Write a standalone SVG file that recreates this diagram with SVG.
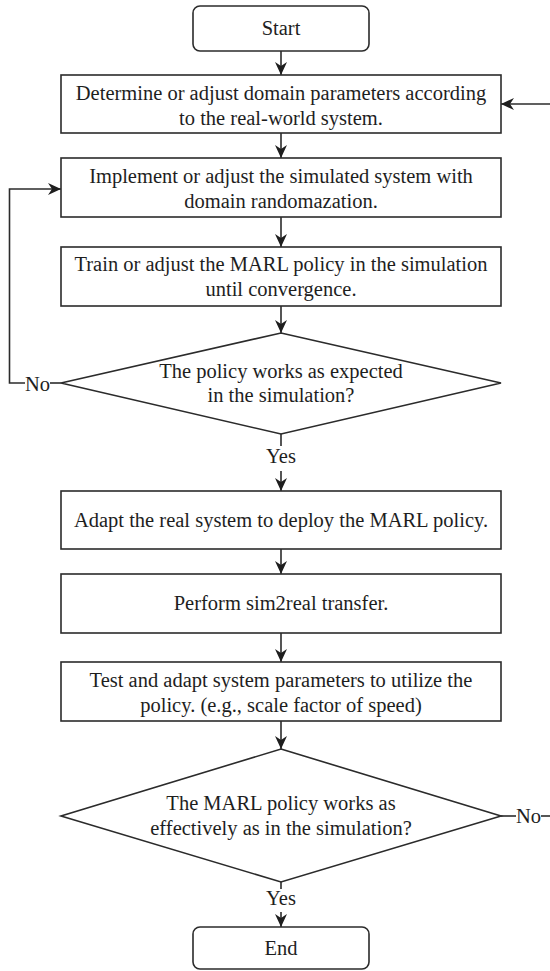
<svg xmlns="http://www.w3.org/2000/svg" width="550" height="971" viewBox="0 0 550 971">
<style>
.box{fill:#fff;stroke:#2b2b2b;stroke-width:1.6}
.t{font-family:'Liberation Serif','Tinos','Times New Roman','Nimbus Roman','DejaVu Serif','Noto Serif',serif;font-size:20.5px;fill:#1e1e1e;text-anchor:middle}
.ln{fill:none;stroke:#2b2b2b;stroke-width:1.6}
</style>
<defs>
<marker id="arr" viewBox="0 0 14 12" markerWidth="14" markerHeight="12" refX="13" refY="6" orient="auto" markerUnits="userSpaceOnUse">
<path d="M0,0 L13,6 L0,12 L4,6 z" fill="#1e1e1e"/>
</marker>
</defs>
<rect width="550" height="971" fill="#fff"/>
<g id="connectors">
<line class="ln" x1="281" y1="51" x2="281" y2="75" marker-end="url(#arr)"/>
<line class="ln" x1="281" y1="133" x2="281" y2="158" marker-end="url(#arr)"/>
<line class="ln" x1="281" y1="217" x2="281" y2="247" marker-end="url(#arr)"/>
<line class="ln" x1="281" y1="306" x2="281" y2="333" marker-end="url(#arr)"/>
<line class="ln" x1="281" y1="434" x2="281" y2="446"/>
<line class="ln" x1="281" y1="471" x2="281" y2="491" marker-end="url(#arr)"/>
<line class="ln" x1="281" y1="549" x2="281" y2="574" marker-end="url(#arr)"/>
<line class="ln" x1="281" y1="633" x2="281" y2="662" marker-end="url(#arr)"/>
<line class="ln" x1="281" y1="721" x2="281" y2="749" marker-end="url(#arr)"/>
<line class="ln" x1="281" y1="882" x2="281" y2="889"/>
<line class="ln" x1="281" y1="912" x2="281" y2="927" marker-end="url(#arr)"/>
<line class="ln" x1="61" y1="383" x2="50" y2="383"/>
<polyline class="ln" points="25,383 9.5,383 9.5,189 61,189" marker-end="url(#arr)"/>
<line class="ln" x1="501" y1="816" x2="516" y2="816"/>
<line class="ln" x1="541" y1="816" x2="550" y2="816"/>
<line class="ln" x1="550" y1="104" x2="501" y2="104" marker-end="url(#arr)"/>
<text class="t" x="281" y="463" font-family="Liberation Serif, serif">Yes</text>
<text class="t" x="281" y="905">Yes</text>
<text class="t" x="37.5" y="391">No</text>
<text class="t" x="528.5" y="823">No</text>
</g>
<g id="start">
<rect class="box" x="193" y="6" width="176" height="45" rx="7"/>
<text class="t" x="281" y="35">Start</text>
</g>
<g id="determine">
<rect class="box" x="61" y="75" width="440" height="58"/>
<text class="t" x="281" y="99.5">Determine or adjust domain parameters according</text>
<text class="t" x="281" y="124.5">to the real-world system.</text>
</g>
<g id="implement">
<rect class="box" x="61" y="158" width="440" height="59"/>
<text class="t" x="281" y="182.5">Implement or adjust the simulated system with</text>
<text class="t" x="281" y="207.5">domain randomazation.</text>
</g>
<g id="train">
<rect class="box" x="61" y="247" width="440" height="59"/>
<text class="t" x="281" y="271">Train or adjust the MARL policy in the simulation</text>
<text class="t" x="281" y="296">until convergence.</text>
</g>
<g id="decision1">
<polygon class="box" points="281,333 501,383 281,434 61,383"/>
<text class="t" x="281" y="378">The policy works as expected</text>
<text class="t" x="281" y="402">in the simulation?</text>
</g>
<g id="adapt">
<rect class="box" x="61" y="491" width="440" height="58"/>
<text class="t" x="281" y="526.5">Adapt the real system to deploy the MARL policy.</text>
</g>
<g id="perform">
<rect class="box" x="61" y="574" width="440" height="59"/>
<text class="t" x="281" y="610">Perform sim2real transfer.</text>
</g>
<g id="test">
<rect class="box" x="61" y="662" width="440" height="59"/>
<text class="t" x="281" y="686.5">Test and adapt system parameters to utilize the</text>
<text class="t" x="281" y="711.5">policy. (e.g., scale factor of speed)</text>
</g>
<g id="decision2">
<polygon class="box" points="281,749 501,816 281,882 61,816"/>
<text class="t" x="281" y="810">The MARL policy works as</text>
<text class="t" x="281" y="835">effectively as in the simulation?</text>
</g>
<g id="end">
<rect class="box" x="193" y="927" width="176" height="42" rx="7"/>
<text class="t" x="281" y="955">End</text>
</g>
</svg>
